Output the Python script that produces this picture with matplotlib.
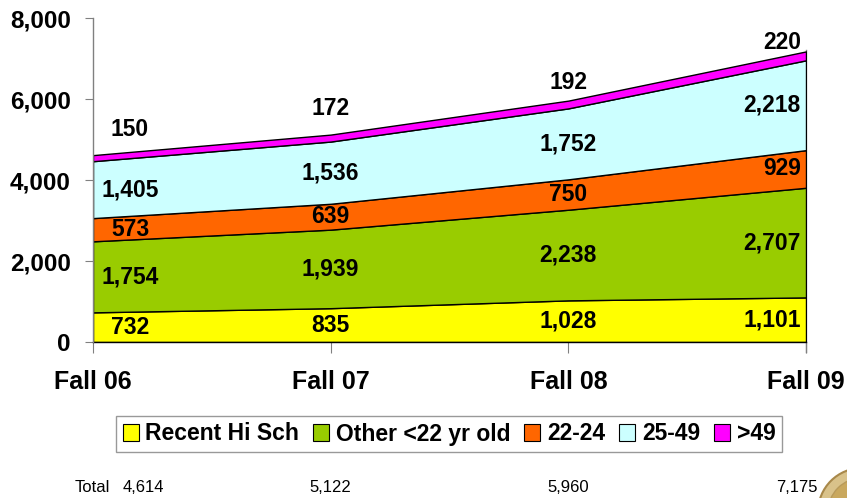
import matplotlib
matplotlib.use("Agg")
import matplotlib.pyplot as plt
import numpy as np
from matplotlib.patches import Circle
from matplotlib.transforms import IdentityTransform

plt.rcParams['font.family'] = ['Liberation Sans', 'DejaVu Sans']

categories = ["Fall 06", "Fall 07", "Fall 08", "Fall 09"]
series_names = ["Recent Hi Sch", "Other <22 yr old", "22-24", "25-49", ">49"]
recent_hs = [732, 835, 1028, 1101]
other_u22 = [1754, 1939, 2238, 2707]
age_22_24 = [573, 639, 750, 929]
age_25_49 = [1405, 1536, 1752, 2218]
age_over49 = [150, 172, 192, 220]
totals = [4614, 5122, 5960, 7175]
y_ticks = [0, 2000, 4000, 6000, 8000]

colors = ["#FFFF00", "#99CC00", "#FF6600", "#CCFFFF", "#FF00FF"]
series = [recent_hs, other_u22, age_22_24, age_25_49, age_over49]
top_label_dy = [26, 26, 18, 9]  # pixel offsets of the top-series labels

fig = plt.figure(figsize=(8.47, 4.98), dpi=100)
ax = fig.add_axes([93/847, 1-342/498, (806-93)/847, (342-18)/498])

x = np.arange(len(categories))
ax.stackplot(x, *series, colors=colors, labels=series_names,
             edgecolor='black', linewidth=1.0)

ax.set_xlim(0, len(categories)-1)
ax.set_ylim(0, 8000)
ax.set_yticks(y_ticks)
ax.set_yticklabels([f"{v:,}" for v in y_ticks], fontsize=17.5, fontweight='bold')
ax.set_xticks(x)
ax.set_xticklabels(categories, fontsize=18, fontweight='bold')
ax.tick_params(axis='y', length=6, color='#808080', pad=10)
ax.tick_params(axis='x', length=8, color='#808080', pad=12)
for s in ['top', 'right']:
    ax.spines[s].set_visible(False)
ax.spines['left'].set_color('#808080')
ax.spines['bottom'].set_color('black')
ax.spines['bottom'].set_linewidth(1.0)
ax.spines['left'].set_linewidth(1.0)
ax.spines['left'].set_zorder(5)
ax.axvline(len(categories)-1, color='#808080', lw=1.0, ymin=-0.03, ymax=0.9,
           clip_on=False, zorder=0)

# data labels
cum = np.zeros(len(categories))
n = len(categories)
for si, vals in enumerate(series):
    vals = np.array(vals, dtype=float)
    for i in range(n):
        if si == len(series) - 1:
            yv = cum[i] + vals[i]
            dy = top_label_dy[i]
        else:
            yv = cum[i] + vals[i] / 2
            dy = 0
        if i == 0:
            dx, ha = 37, 'center'
        elif i == n - 1:
            dx, ha = -5, 'right'
        else:
            dx, ha = 0, 'center'
        ax.annotate(f"{int(vals[i]):,}", xy=(i, yv), xytext=(dx, dy),
                    textcoords='offset pixels', ha=ha, va='center',
                    fontsize=16.5, fontweight='bold', color='black', zorder=6)
    cum += vals

leg = fig.legend(loc='center', bbox_to_anchor=(449/847, 1-434/498), ncol=5,
                 prop={'weight': 'bold', 'size': 16.5},
                 frameon=True, fancybox=False, edgecolor='#808080',
                 handlelength=0.7, handleheight=0.7, handletextpad=0.3,
                 columnspacing=0.6, borderpad=0.3, borderaxespad=0)
leg.get_frame().set_linewidth(1.0)
for h in leg.legend_handles:
    h.set_edgecolor('black')
    h.set_linewidth(0.8)

# totals row
fig.text(110/847, 1-487/498, "Total", ha='right', va='center', fontsize=12)
for i, t in enumerate(totals):
    xp = ax.transData.transform((i, 0))[0]
    if i == 0:
        xp += 50
    elif i == n - 1:
        xp -= 9
    fig.text(xp / fig.bbox.width, 1-487/498, f"{t:,}", ha='center', va='center',
             fontsize=12)

# seal (partial, bottom-right)
seal_outer = Circle((862, -14), 44, transform=IdentityTransform(),
                    facecolor='#D9C28A', edgecolor='#A8884A', lw=1.5)
seal_inner = Circle((862, -14), 34, transform=IdentityTransform(),
                    facecolor='#C9A85E', edgecolor='#B89A5A', lw=1)
fig.add_artist(seal_outer)
fig.add_artist(seal_inner)

fig.savefig("out.png", dpi=100)
